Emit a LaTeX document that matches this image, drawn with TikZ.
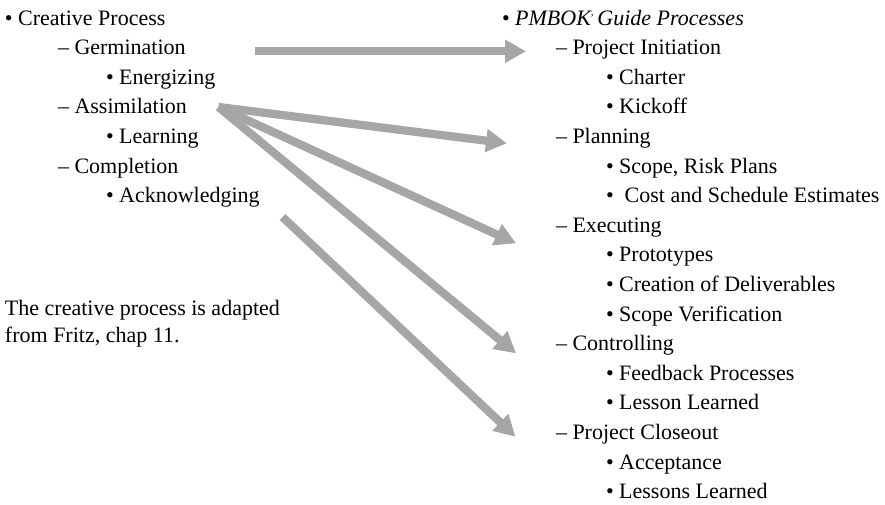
\documentclass[tikz,border=0pt]{standalone}
\usepackage{fontspec}
\setmainfont{Liberation Serif}
\usetikzlibrary{arrows.meta}
\definecolor{arrowgrey}{RGB}{166,166,166}
\begin{document}
\begin{tikzpicture}[x=1pt,y=-1pt,
  item/.style={anchor=base west,inner sep=0pt,outer sep=0pt,font=\fontsize{22}{27}\selectfont},
  note/.style={anchor=base west,inner sep=0pt,outer sep=0pt,align=left,font=\fontsize{22}{27}\selectfont},
  fatarrow/.style={draw=arrowgrey,line width=8.3pt,line cap=butt,
    -{Triangle[length=21pt,width=22pt,fill=arrowgrey,color=arrowgrey]}}]
\useasboundingbox (0,0) rectangle (885,504);
% left column
\node[item] (cp)  at (5,25)      {\textbullet\ Creative Process};
\node[item] (ger) at (58,54.6)   {– Germination};
\node[item] (ene) at (106,84.2)  {\textbullet\ Energizing};
\node[item] (ass) at (58,113.8)  {– Assimilation};
\node[item] (lea) at (106,143.4) {\textbullet\ Learning};
\node[item] (com) at (58,173)    {– Completion};
\node[item] (ack) at (106,202.6) {\textbullet\ Acknowledging};
\node[note] (src) at (5,342) {The creative process is adapted\\from Fritz, chap 11.};
% right column
\node[item] (pm)  at (502,25)     {\textbullet\ \textit{PMBOK\raisebox{0.42em}{\fontsize{11}{11}\selectfont ,}\,Guide Processes}};
\node[item] (ini) at (556,54.6)   {– Project Initiation};
\node[item] (cha) at (606,84.2)   {\textbullet\ Charter};
\node[item] (kic) at (606,113.8)  {\textbullet\ Kickoff};
\node[item] (pla) at (556,143.4)  {– Planning};
\node[item] (scr) at (606,173)    {\textbullet\ Scope, Risk Plans};
\node[item] (cse) at (606,202.6)  {\textbullet\ \ Cost and Schedule Estimates};
\node[item] (exe) at (556,232.2)  {– Executing};
\node[item] (pro) at (606,261.8)  {\textbullet\ Prototypes};
\node[item] (cre) at (606,291.4)  {\textbullet\ Creation of Deliverables};
\node[item] (sve) at (606,321)    {\textbullet\ Scope Verification};
\node[item] (con) at (556,350.6)  {– Controlling};
\node[item] (fee) at (606,380.2)  {\textbullet\ Feedback Processes};
\node[item] (les) at (606,409.8)  {\textbullet\ Lesson Learned};
\node[item] (clo) at (556,439.4)  {– Project Closeout};
\node[item] (acc) at (606,469)    {\textbullet\ Acceptance};
\node[item] (lel) at (606,498.6)  {\textbullet\ Lessons Learned};
% arrow end points
\coordinate (gerOut) at (255,51.3);
\coordinate (iniIn)  at (526,51.3);
\coordinate (assOut) at (218.5,107);
\coordinate (plaIn)  at (507,143.3);
\coordinate (exeIn)  at (516,243.3);
\coordinate (conIn)  at (516,353.3);
\coordinate (ackOut) at (282.5,217);
\coordinate (cloIn)  at (515.5,436.7);
% arrows
\draw[fatarrow] (gerOut) -- (iniIn);
\draw[fatarrow] (assOut) -- (plaIn);
\draw[fatarrow] (assOut) -- (exeIn);
\draw[fatarrow] (assOut) -- (conIn);
\draw[fatarrow] (ackOut) -- (cloIn);
\end{tikzpicture}
\end{document}
